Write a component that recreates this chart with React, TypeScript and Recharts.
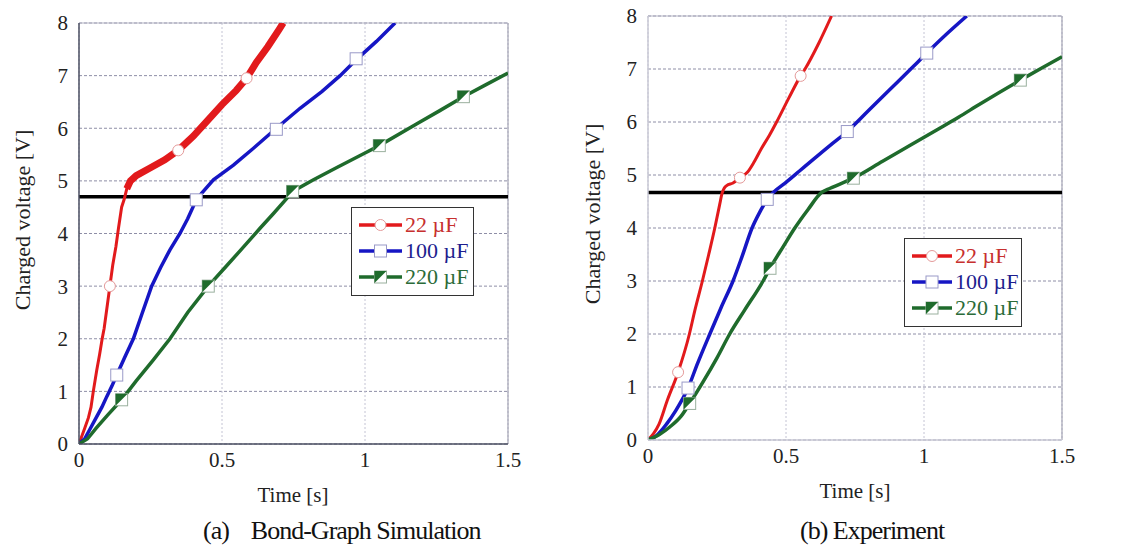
import { LineChart, Line, XAxis, YAxis, CartesianGrid, ReferenceLine, Legend } from 'recharts'

type Pt = [number, number]

const timeTicks = [0, 0.5, 1, 1.5]
const voltTicks = [0, 1, 2, 3, 4, 5, 6, 7, 8]
const capLabels = ['22 µF', '100 µF', '220 µF']

// (a) bond-graph simulation, [time s, volts]
const sim22: Pt[] = [
  [0, 0], [0.01, 0.15], [0.02, 0.3], [0.033, 0.5], [0.042, 0.7], [0.05, 1.0], [0.062, 1.4],
  [0.072, 1.7], [0.081, 2.0], [0.088, 2.2], [0.098, 2.6], [0.108, 3.0], [0.118, 3.4],
  [0.129, 3.75], [0.138, 4.1], [0.149, 4.5], [0.158, 4.65], [0.167, 4.85], [0.18, 5.0],
  [0.2, 5.1], [0.25, 5.25], [0.3, 5.4], [0.347, 5.58], [0.4, 5.85], [0.45, 6.15], [0.5, 6.45],
  [0.55, 6.72], [0.586, 6.95], [0.62, 7.25], [0.66, 7.55], [0.7, 7.88], [0.714, 8.0],
]
const sim100: Pt[] = [
  [0, 0], [0.02, 0.1], [0.04, 0.3], [0.062, 0.52], [0.08, 0.7], [0.097, 0.9], [0.115, 1.1],
  [0.132, 1.31], [0.16, 1.65], [0.19, 2.0], [0.22, 2.47], [0.254, 3.0], [0.285, 3.35],
  [0.318, 3.69], [0.353, 4.0], [0.38, 4.28], [0.41, 4.64], [0.43, 4.77], [0.47, 5.02],
  [0.54, 5.3], [0.61, 5.62], [0.69, 6.0], [0.773, 6.38], [0.85, 6.7], [0.913, 7.0],
  [0.969, 7.3], [1.04, 7.65], [1.105, 8.0],
]
const sim220: Pt[] = [
  [0, 0], [0.03, 0.1], [0.06, 0.3], [0.1, 0.55], [0.149, 0.84], [0.2, 1.2], [0.26, 1.6],
  [0.318, 2.0], [0.38, 2.5], [0.452, 3.0], [0.51, 3.35], [0.563, 3.67], [0.633, 4.1],
  [0.68, 4.38], [0.732, 4.7], [0.747, 4.8], [0.82, 5.02], [0.9, 5.25], [1.0, 5.53],
  [1.05, 5.67], [1.18, 6.08], [1.26, 6.33], [1.344, 6.6], [1.42, 6.82], [1.5, 7.05],
]
const sim22Marks: Pt[] = [[0.108, 3.0], [0.347, 5.58], [0.586, 6.95]]
const sim100Marks: Pt[] = [[0.132, 1.31], [0.41, 4.64], [0.69, 5.98], [0.969, 7.32]]
const sim220Marks: Pt[] = [[0.149, 0.84], [0.452, 3.0], [0.747, 4.8], [1.05, 5.67], [1.344, 6.6]]
const simThreshold = 4.7

// (b) experiment
const exp22: Pt[] = [
  [0, 0], [0.02, 0.12], [0.04, 0.3], [0.07, 0.75], [0.109, 1.28], [0.15, 2.0], [0.17, 2.45],
  [0.197, 3.0], [0.22, 3.5], [0.242, 4.0], [0.26, 4.45], [0.268, 4.65], [0.276, 4.75],
  [0.285, 4.8], [0.308, 4.85], [0.333, 4.95], [0.36, 5.05], [0.385, 5.25], [0.411, 5.5],
  [0.44, 5.75], [0.466, 6.0], [0.51, 6.45], [0.553, 6.87], [0.569, 7.0], [0.62, 7.5], [0.665, 8.0],
]
const exp100: Pt[] = [
  [0, 0], [0.03, 0.08], [0.067, 0.3], [0.1, 0.55], [0.145, 0.98], [0.18, 1.45], [0.224, 2.0],
  [0.265, 2.5], [0.308, 3.0], [0.34, 3.45], [0.377, 4.0], [0.405, 4.3], [0.432, 4.54],
  [0.454, 4.67], [0.5, 4.86], [0.55, 5.08], [0.6, 5.3], [0.66, 5.56], [0.722, 5.82],
  [0.8, 6.22], [0.88, 6.63], [0.962, 7.05], [1.01, 7.3], [1.08, 7.65], [1.155, 8.0],
]
const exp220: Pt[] = [
  [0, 0], [0.04, 0.1], [0.08, 0.25], [0.12, 0.45], [0.151, 0.69], [0.2, 1.1], [0.25, 1.55],
  [0.296, 2.0], [0.35, 2.45], [0.417, 3.0], [0.442, 3.24], [0.49, 3.65], [0.532, 4.0],
  [0.58, 4.35], [0.629, 4.67], [0.66, 4.75], [0.744, 4.94], [0.85, 5.26], [0.95, 5.56],
  [1.046, 5.85], [1.125, 6.09], [1.2, 6.33], [1.349, 6.79], [1.43, 7.03], [1.5, 7.23],
]
const exp22Marks: Pt[] = [[0.109, 1.28], [0.333, 4.95], [0.553, 6.87]]
const exp100Marks: Pt[] = [[0.145, 0.98], [0.432, 4.54], [0.722, 5.82], [1.01, 7.3]]
const exp220Marks: Pt[] = [[0.151, 0.69], [0.442, 3.24], [0.744, 4.94], [1.349, 6.79]]
const expThreshold = 4.67

const FONT = '"Liberation Serif", "Times New Roman", serif'
const RED = '#e21a1c'
const BLUE = '#1616c4'
const GREEN = '#1f6b2c'
const TEXT_COLORS = ['#c7302e', '#1d1d8e', '#2b6b38']

type Shape = 'circle' | 'square' | 'half'

const toRows = (pts: Pt[]) => pts.map(([t, v]) => ({ t, v }))

function Marker({ cx, cy, shape }: { cx: number; cy: number; shape: Shape }) {
  if (cx == null || cy == null) return null
  if (shape === 'circle') {
    return <circle cx={cx} cy={cy} r={5.5} fill="#fff" stroke="#e49a9a" strokeWidth={1} />
  }
  if (shape === 'square') {
    return <rect x={cx - 6} y={cy - 6} width={12} height={12} fill="#fff" stroke="#9a9ac8" strokeWidth={1} />
  }
  return (
    <g>
      <rect x={cx - 6} y={cy - 6} width={12} height={12} fill="#fff" stroke="#9ab09e" strokeWidth={1} />
      <polygon points={`${cx - 6},${cy - 6} ${cx + 6},${cy - 6} ${cx - 6},${cy + 6}`} fill={GREEN} />
    </g>
  )
}

interface Series {
  data: Pt[]
  marks: Pt[]
  color: string
  shape: Shape
  width: number
  thickFrom?: number // above this voltage the sim trace is drawn as a thick jagged band
}

interface LegendBox {
  left: number
  top: number
  width: number
  height: number
  line: number
}

interface PanelProps {
  series: Series[]
  threshold: number
  width: number
  margin: { top: number; right: number; left: number; bottom: number }
  curve: 'linear' | 'monotone'
  legend: LegendBox
  yLabel: { x: number; y: number }
  xLabel: { x: number; y: number }
  axisColor: string
}

function LegendContent({ box, series }: { box: LegendBox; series: Series[] }) {
  return (
    <div
      style={{
        width: box.width,
        height: box.height,
        boxSizing: 'border-box',
        border: '1.5px solid #333',
        background: '#fff',
        padding: '4px 0 0 7px',
        fontFamily: FONT,
        fontSize: 22,
        lineHeight: '26px',
        whiteSpace: 'nowrap',
      }}
    >
      {series.map((s, i) => (
        <div key={i} style={{ display: 'flex', alignItems: 'center', height: 26, color: TEXT_COLORS[i] }}>
          <svg width={box.line} height={16} style={{ marginRight: 3, flexShrink: 0 }}>
            <line x1={0} y1={8} x2={box.line} y2={8} stroke={s.color} strokeWidth={3.5} />
            <Marker cx={box.line / 2} cy={8} shape={s.shape} />
          </svg>
          <span style={{ flexShrink: 0 }}>{capLabels[i]}</span>
        </div>
      ))}
    </div>
  )
}

function Panel(p: PanelProps) {
  const height = 554
  return (
    <LineChart width={p.width} height={height} margin={p.margin}>
      <CartesianGrid horizontal vertical={false} stroke="#8e8ea6" strokeDasharray="3 2" />
      <CartesianGrid horizontal={false} vertical stroke="#c4c4d4" strokeDasharray="2 2" />
      <XAxis
        type="number"
        dataKey="t"
        domain={[0, 1.5]}
        ticks={timeTicks}
        allowDataOverflow
        height={30}
        tickLine={false}
        axisLine={{ stroke: p.axisColor, strokeWidth: 1.5 }}
        tick={{ fontFamily: FONT, fontSize: 21, fill: '#222' }}
        label={{
          content: () => (
            <text x={p.xLabel.x} y={p.xLabel.y} textAnchor="middle" fontFamily={FONT} fontSize={21} fill="#222">
              Time [s]
            </text>
          ),
        }}
      />
      <YAxis
        type="number"
        dataKey="v"
        domain={[0, 8]}
        ticks={voltTicks}
        allowDataOverflow
        width={50}
        tickLine={false}
        tickMargin={5}
        axisLine={{ stroke: p.axisColor, strokeWidth: 1.5 }}
        tick={{ fontFamily: FONT, fontSize: 21, fill: '#222' }}
        label={{
          content: () => (
            <text
              x={p.yLabel.x}
              y={p.yLabel.y}
              textAnchor="middle"
              dominantBaseline="central"
              transform={`rotate(-90 ${p.yLabel.x} ${p.yLabel.y})`}
              fontFamily={FONT}
              fontSize={22}
              fill="#222"
            >
              Charged voltage [V]
            </text>
          ),
        }}
      />
      <ReferenceLine y={8} stroke="#b4b4c4" strokeWidth={1.2} />
      <ReferenceLine x={1.5} stroke="#a4a4b4" strokeWidth={1.2} />
      <ReferenceLine y={p.threshold} stroke="#000" strokeWidth={3.5} />
      {p.series.map((s, i) => (
        <Line
          key={`l${i}`}
          data={toRows(s.data)}
          dataKey="v"
          type={p.curve}
          stroke={s.color}
          strokeWidth={s.width}
          dot={false}
          activeDot={false}
          legendType="none"
          isAnimationActive={false}
        />
      ))}
      {p.series
        .filter((s) => s.thickFrom != null)
        .map((s, i) => (
          <Line
            key={`k${i}`}
            data={toRows(s.data.filter(([, v]) => v >= (s.thickFrom as number)))}
            dataKey="v"
            type={p.curve}
            stroke={s.color}
            strokeWidth={7}
            dot={false}
            activeDot={false}
            legendType="none"
            isAnimationActive={false}
          />
        ))}
      {p.series.map((s, i) => (
        <Line
          key={`m${i}`}
          data={toRows(s.marks)}
          dataKey="v"
          stroke="none"
          dot={(d: any) => <Marker key={`d${i}-${d.index}`} cx={d.cx} cy={d.cy} shape={s.shape} />}
          activeDot={false}
          legendType="none"
          isAnimationActive={false}
        />
      ))}
      <Legend
        layout="horizontal"
        verticalAlign="middle"
        align="center"
        wrapperStyle={{ left: p.legend.left, top: p.legend.top, width: p.legend.width, height: p.legend.height }}
        content={() => <LegendContent box={p.legend} series={p.series} />}
      />
    </LineChart>
  )
}

const simSeries: Series[] = [
  { data: sim22, marks: sim22Marks, color: RED, shape: 'circle', width: 3, thickFrom: 4.85 },
  { data: sim100, marks: sim100Marks, color: BLUE, shape: 'square', width: 3.5 },
  { data: sim220, marks: sim220Marks, color: GREEN, shape: 'half', width: 3.5 },
]

const expSeries: Series[] = [
  { data: exp22, marks: exp22Marks, color: RED, shape: 'circle', width: 3 },
  { data: exp100, marks: exp100Marks, color: BLUE, shape: 'square', width: 3.5 },
  { data: exp220, marks: exp220Marks, color: GREEN, shape: 'half', width: 3.5 },
]

const captionStyle: React.CSSProperties = {
  position: 'absolute',
  top: 516,
  fontFamily: FONT,
  fontSize: 26,
  letterSpacing: -1,
  color: '#111',
  whiteSpace: 'pre',
}

export default function App() {
  return (
    <div style={{ position: 'absolute', left: 0, top: 0, width: 1125, height: 554, background: '#fff', overflow: 'hidden' }}>
      <div style={{ position: 'absolute', left: 0, top: 0 }}>
        <Panel
          series={simSeries}
          threshold={simThreshold}
          width={540}
          margin={{ top: 23, right: 32, left: 29, bottom: 80 }}
          curve="linear"
          legend={{ left: 351, top: 207, width: 123, height: 89, line: 43 }}
          yLabel={{ x: 22, y: 220 }}
          xLabel={{ x: 293, y: 502 }}
          axisColor="#4a4e60"
        />
      </div>
      <div style={{ position: 'absolute', left: 560, top: 0 }}>
        <Panel
          series={expSeries}
          threshold={expThreshold}
          width={565}
          margin={{ top: 16, right: 63, left: 38, bottom: 84 }}
          curve="monotone"
          legend={{ left: 344, top: 238, width: 118, height: 89, line: 40 }}
          yLabel={{ x: 32, y: 214 }}
          xLabel={{ x: 295, y: 498 }}
          axisColor="#c8c8d4"
        />
      </div>
      <div style={{ ...captionStyle, left: 203 }}>{'(a)    Bond-Graph Simulation'}</div>
      <div style={{ ...captionStyle, left: 800 }}>{'(b) Experiment'}</div>
    </div>
  )
}
